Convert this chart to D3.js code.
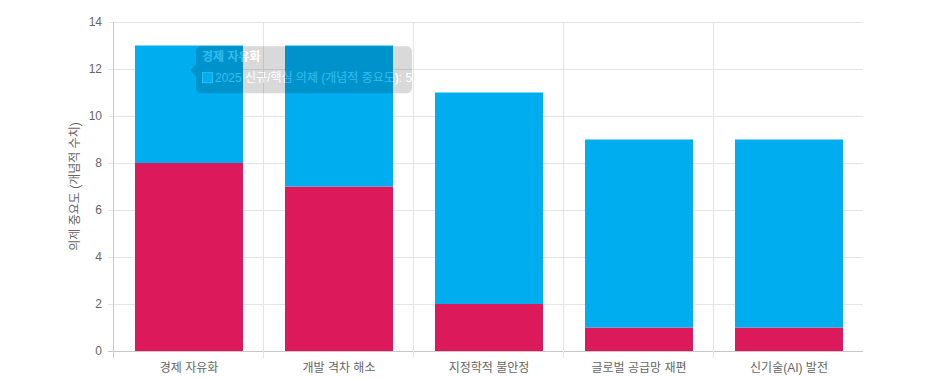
<!DOCTYPE html>
<html>
<head>
<meta charset="utf-8">
<script src="https://cdn.jsdelivr.net/npm/d3@7"></script>
<style>
    body { margin: 0; background: #fff; }
    text { font-family: "Liberation Sans", Arial, "Noto Sans CJK KR", sans-serif; }
</style>
</head>
<body>
<div id="chart"></div>
<script>
    // Chart data
    var categories = ['경제 자유화', '개발 격차 해소', '지정학적 불안정', '글로벌 공급망 재편', '신기술(AI) 발전'];
    var baseValues = [8, 7, 2, 1, 1];
    var newValues = [5, 6, 9, 8, 8];
    var yTicks = [0, 2, 4, 6, 8, 10, 12, 14];
    var seriesNames = ['기존 의제', '2025 신규/핵심 의제 (개념적 중요도)'];
    var seriesColors = ['#dc1a5b', '#00adef'];
    var yTitle = '의제 중요도 (개념적 수치)';

    var width = 940, height = 379;
    var margin = { left: 113, right: 77, top: 22, bottom: 28 };

    var svg = d3.select('#chart')
        .append('svg')
        .attr('width', width)
        .attr('height', height);

    // scales
    var x = d3.scaleBand()
        .domain(categories)
        .range([margin.left, width - margin.right])
        .paddingInner(0)
        .paddingOuter(0);

    var y = d3.scaleLinear()
        .domain([0, 14])
        .range([height - margin.bottom, margin.top]);

    var grid = svg.append('g');

    // horizontal grid lines
    grid.selectAll('line.h')
        .data(yTicks)
        .enter()
        .append('line')
        .attr('x1', margin.left - 5)
        .attr('x2', width - margin.right)
        .attr('y1', function (d) { return Math.round(y(d)) + 0.5; })
        .attr('y2', function (d) { return Math.round(y(d)) + 0.5; })
        .attr('stroke', function (d) { return d === 0 ? '#c8c8c8' : '#e5e5e5'; })
        .attr('stroke-width', 1);

    // vertical grid lines at band edges
    grid.selectAll('line.v')
        .data(categories)
        .enter()
        .append('line')
        .attr('x1', function (d) { return Math.round(x(d)) + 0.5; })
        .attr('x2', function (d) { return Math.round(x(d)) + 0.5; })
        .attr('y1', margin.top)
        .attr('y2', height - margin.bottom + 7)
        .attr('stroke', function (d, i) { return i === 0 ? '#c8c8c8' : '#e5e5e5'; })
        .attr('stroke-width', 1);

    // y tick labels
    svg.append('g')
        .selectAll('text')
        .data(yTicks)
        .enter()
        .append('text')
        .attr('x', margin.left - 11)
        .attr('y', function (d) { return y(d) + 4; })
        .attr('text-anchor', 'end')
        .attr('font-size', 12)
        .attr('fill', '#666')
        .text(function (d) { return d; });

    // x tick labels
    svg.append('g')
        .selectAll('text')
        .data(categories)
        .enter()
        .append('text')
        .attr('x', function (d) { return x(d) + x.bandwidth() / 2 + 1; })
        .attr('y', height - margin.bottom + 21)
        .attr('text-anchor', 'middle')
        .attr('font-size', 12)
        .attr('fill', '#666')
        .text(function (d) { return d; });

    // y axis title
    svg.append('text')
        .attr('transform', 'translate(79,' + ((margin.top + height - margin.bottom) / 2) + ') rotate(-90)')
        .attr('text-anchor', 'middle')
        .attr('font-size', 12)
        .attr('fill', '#666')
        .text(yTitle);

    // stacked bars
    var barW = x.bandwidth() * 0.72;
    var stacks = categories.map(function (c, i) {
        return [
            { cat: c, y0: 0, y1: baseValues[i], color: seriesColors[0] },
            { cat: c, y0: baseValues[i], y1: baseValues[i] + newValues[i], color: seriesColors[1] }
        ];
    });

    var bars = svg.append('g');
    stacks.forEach(function (s) {
        bars.selectAll(null)
            .data(s)
            .enter()
            .append('rect')
            .attr('x', function (d) { return x(d.cat) + (x.bandwidth() - barW) / 2 + 1; })
            .attr('width', barW)
            .attr('y', function (d) { return y(d.y1); })
            .attr('height', function (d) { return y(d.y0) - y(d.y1); })
            .attr('fill', function (d) { return d.color; });
    });

    // fading tooltip over the first bar
    var tipAlpha = 0.18;
    var ax = x(categories[0]) + x.bandwidth() / 2 + 2;
    var ay = y(11.95);
    var tip = svg.append('g').attr('opacity', tipAlpha);
    var bx = ax + 6, bw = 216, bh = 47, by = ay - 24;

    tip.append('path')
        .attr('d', 'M' + (bx + 5) + ',' + by + 'h' + (bw - 10) + 'a5,5 0 0 1 5,5v' + (bh - 10) +
            'a5,5 0 0 1 -5,5h' + (-(bw - 10)) + 'a5,5 0 0 1 -5,-5V' + (ay + 6) +
            'L' + ax + ',' + ay + 'L' + bx + ',' + (ay - 6) + 'V' + (by + 5) + 'a5,5 0 0 1 5,-5Z')
        .attr('fill', 'rgba(0,0,0,0.8)');

    tip.append('text')
        .attr('x', bx + 6)
        .attr('y', by + 15)
        .attr('font-size', 12)
        .attr('font-weight', 'bold')
        .attr('fill', '#fff')
        .text(categories[0]);

    tip.append('rect')
        .attr('x', bx + 6)
        .attr('y', by + 26)
        .attr('width', 11)
        .attr('height', 11)
        .attr('fill', '#fff');
    tip.append('rect')
        .attr('x', bx + 7)
        .attr('y', by + 27)
        .attr('width', 9)
        .attr('height', 9)
        .attr('fill', seriesColors[1]);

    tip.append('text')
        .attr('x', bx + 19)
        .attr('y', by + 36)
        .attr('font-size', 12)
        .attr('fill', '#fff')
        .text(seriesNames[1] + ': ' + newValues[0]);
</script>
</body>
</html>
